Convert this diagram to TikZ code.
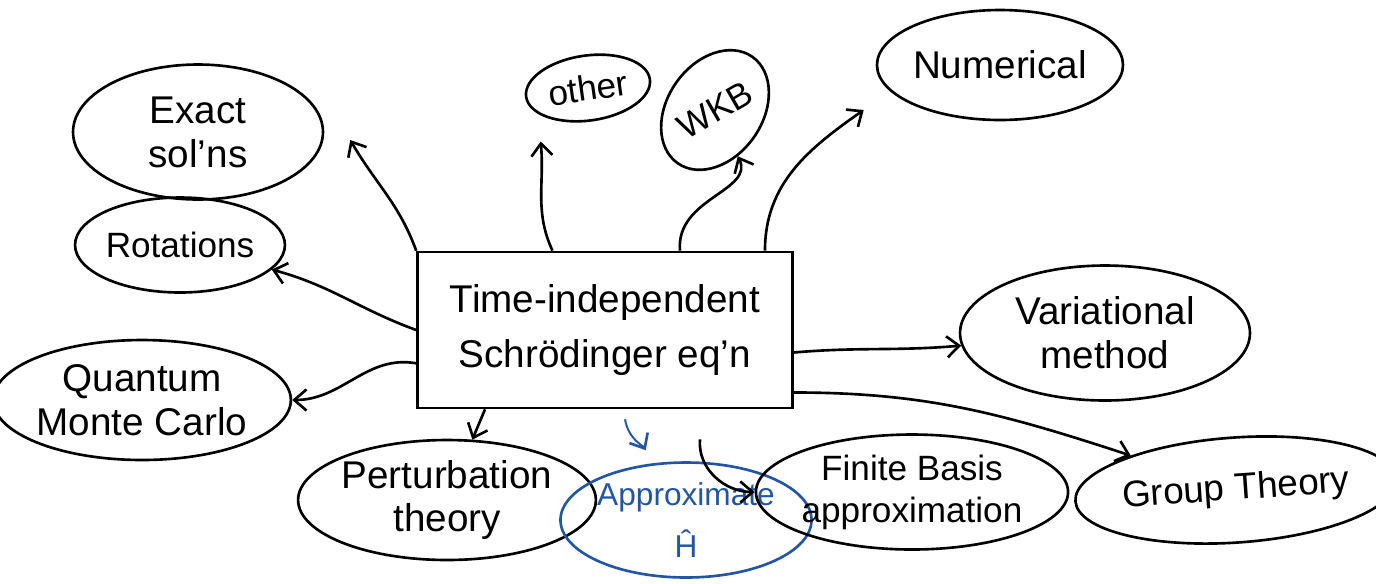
\documentclass[tikz,border=0pt]{standalone}
\usepackage{fontspec}
\setmainfont{Liberation Sans}
\usetikzlibrary{shapes.geometric,arrows.meta,calc}
\definecolor{penblue}{RGB}{35,85,165}
\begin{document}
\begin{tikzpicture}[x=0.02cm,y=-0.02cm,
  ell/.style={ellipse,draw,line width=1.5pt,inner sep=0pt,align=center,
    font=\fontsize{22}{25}\selectfont},
  mainbox/.style={rectangle,draw,line width=1.5pt,align=center,
    minimum width=7.5cm,minimum height=3.12cm,
    font=\fontsize{22}{31}\selectfont},
  arr/.style={line width=1.5pt,-{Straight Barb[length=7pt,width=12pt,line width=1.5pt]}}]
\useasboundingbox (0,0) rectangle (1376,583);
% central node
\node[mainbox] (box) at (605,330) {Time-independent\\Schrödinger eq'n};
% satellites
\node[ell,minimum width=5cm,minimum height=2.7cm] (exact) at (198,132) {Exact\\sol'ns};
\node[ell,minimum width=4.1cm,minimum height=1.9cm,font=\fontsize{20}{24}\selectfont] (rot) at (180,245) {Rotations};
\node[ell,minimum width=5.5cm,minimum height=2.4cm] (qmc) at (142,400) {Quantum\\Monte Carlo};
\node[ell,minimum width=2.5cm,minimum height=1.3cm,rotate=8,font=\fontsize{20}{24}\selectfont] (other) at (588,88) {other};
\node[ell,minimum width=2.6cm,minimum height=1.9cm,rotate=55,font=\fontsize{20}{24}\selectfont] (wkb) at (715,110) {\rotatebox{-25}{WKB}};
\node[ell,minimum width=4.8cm,minimum height=2.2cm] (num) at (1000,65) {Numerical};
\node[ell,minimum width=5.8cm,minimum height=2.7cm] (var) at (1105,333) {Variational\\method};
\node[ell,minimum width=5.7cm,minimum height=2.4cm] (pert) at (447,500) {Perturbation\\theory};
\node[ell,draw=penblue,text=penblue,minimum width=4.1cm,minimum height=2.3cm,font=\fontsize{18}{30}\selectfont] (approx) at (686,520) {Approximate\\Ĥ};
\node[ell,minimum width=5.3cm,minimum height=2.3cm,font=\fontsize{20}{24}\selectfont] (fin) at (912,492) {Finite Basis\\approximation};
\node[ell,minimum width=5.6cm,minimum height=2.1cm,rotate=4,font=\fontsize{21}{24}\selectfont] (grp) at (1236,490) {Group Theory};
% free ends of the arrows that stop short of their ellipse
\coordinate (exacttip) at ($(exact.east)+(26,8)$);
\coordinate (othertip) at ($(other.south)+(-52,20)$);
\coordinate (numtip) at ($(num.west)+(-12,45)$);
% connectors
\draw[arr] (box.north west) to[out=110,in=-60] (exacttip);
\draw[arr] (box.west) to[out=160,in=-15] (rot);
\draw[arr] (box.190) to[out=170,in=0] (qmc);
\draw[arr] ([xshift=-1.05cm]box.north) to[out=115,in=-85] (othertip);
\draw[arr] ([xshift=1.5cm]box.north) to[out=95,in=-90] (wkb);
\draw[arr] ([xshift=3.2cm]box.north) to[out=90,in=-145] (numtip);
\draw[arr] ([yshift=-0.45cm]box.east) to[out=5,in=185] (var);
\draw[arr] ([yshift=-1.25cm]box.east) to[out=0,in=160] (grp);
\draw[arr] ([xshift=-2.4cm]box.south) -- (pert);
\draw[arr,penblue,line width=1.1pt,shorten >=0.3cm] ([xshift=0.4cm,yshift=-0.2cm]box.south) to[out=-80,in=120] (approx);
\draw[arr] ([xshift=1.9cm,yshift=-0.6cm]box.south) to[out=-95,in=180] (fin);
\end{tikzpicture}
\end{document}
